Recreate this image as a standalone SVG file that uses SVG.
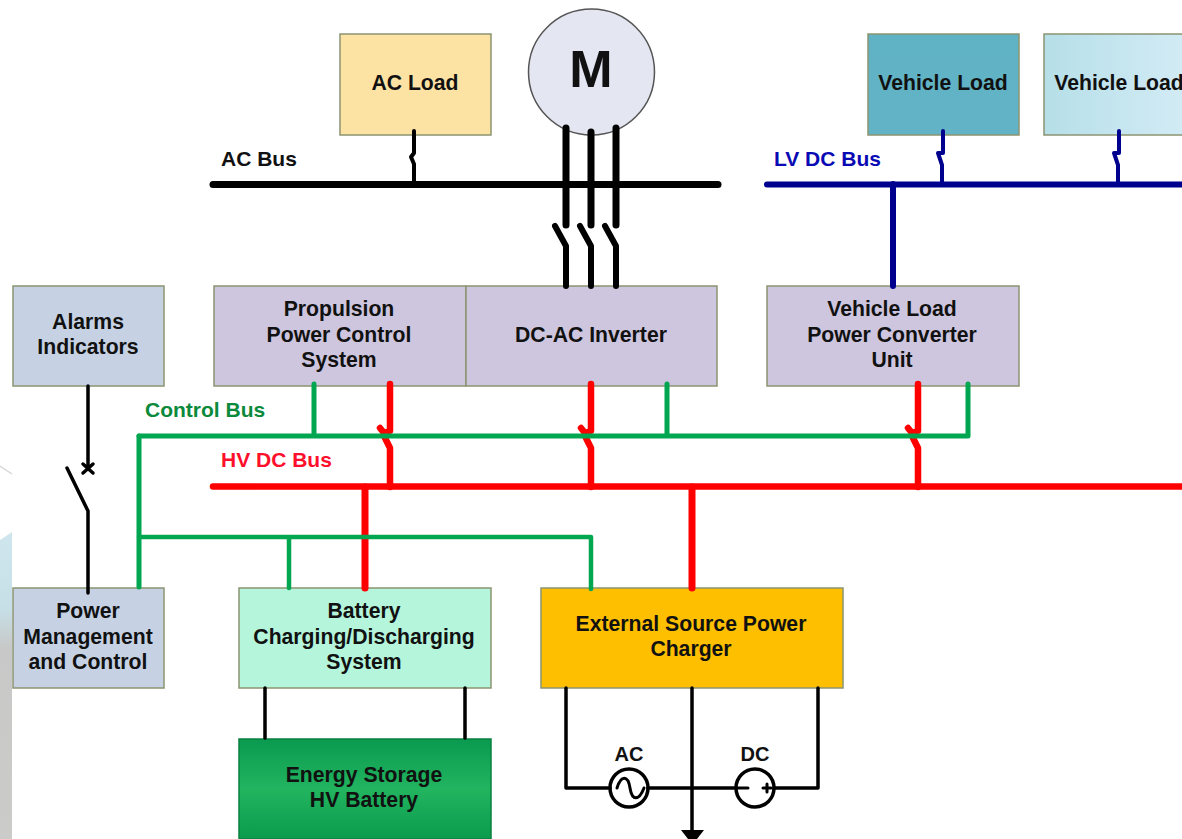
<svg xmlns="http://www.w3.org/2000/svg" width="1182" height="839" viewBox="0 0 1182 839">
<defs>
<linearGradient id="gEs" x1="0" y1="0" x2="0" y2="1"><stop offset="0" stop-color="#0a9a50"/><stop offset="0.5" stop-color="#22b45f"/><stop offset="1" stop-color="#0a9c4c"/></linearGradient>
<linearGradient id="gVl2" x1="0" y1="0" x2="1" y2="0"><stop offset="0" stop-color="#b6dfe8"/><stop offset="1" stop-color="#d4ecf6"/></linearGradient>
<linearGradient id="gVl1" x1="0" y1="0" x2="0" y2="1"><stop offset="0" stop-color="#5fb2c4"/><stop offset="1" stop-color="#62b3c6"/></linearGradient>
<linearGradient id="gBack" gradientUnits="userSpaceOnUse" x1="0" y1="532" x2="0" y2="839"><stop offset="0" stop-color="#cfe6ee"/><stop offset="0.25" stop-color="#c6dfe6"/><stop offset="0.38" stop-color="#c8c8c8"/><stop offset="1" stop-color="#cbcbc9"/></linearGradient>
</defs>
<style>
text{font-family:"Liberation Sans",Arial,sans-serif;font-weight:bold;font-size:21.200px;text-anchor:middle;fill:#111}
.box{stroke:#8c9470;stroke-width:1.500}
.pur{fill:#cdc6de}.blu{fill:#c6d2e4}
.w{fill:none;stroke-linecap:round;stroke-linejoin:round}
.k{stroke:#000}.r{stroke:#fe0000}.g{stroke:#00a650}.b{stroke:#00008f}
.lab{text-anchor:start;font-size:21px}
.sm{font-size:20px}
</style>
<rect width="1182" height="839" fill="#ffffff"/>
<g id="backdrop">
<path d="M0 540L12 532V839H0Z" fill="url(#gBack)"/>
<path d="M0 466L12 474" stroke="#d8d8d8" stroke-width="1.500" fill="none"/>
</g>
<g id="ac-load"><rect class="box" x="340" y="34" width="151" height="101" fill="#fce3a4"/><text x="415" y="90">AC Load</text></g>
<g id="motor"><circle cx="591.500" cy="72" r="63" fill="#e4e6f2" stroke="#555" stroke-width="1.500"/><text x="591" y="87" style="font-size:52px">M</text></g>
<g id="vehicle-load-1"><rect class="box" x="868" y="34" width="151" height="101" fill="url(#gVl1)"/><text x="943" y="90">Vehicle Load</text></g>
<g id="vehicle-load-2"><rect class="box" x="1044" y="34" width="150" height="101" fill="url(#gVl2)"/><text x="1119" y="90">Vehicle Load</text></g>
<g id="alarms"><rect class="box blu" x="13" y="286" width="151" height="100"/><text x="88" y="329">Alarms</text><text x="88" y="354">Indicators</text></g>
<g id="propulsion"><rect class="box pur" x="214" y="286" width="252" height="100"/><text x="339" y="316">Propulsion</text><text x="339" y="342">Power Control</text><text x="339" y="367">System</text></g>
<g id="inverter"><rect class="box pur" x="466" y="286" width="251" height="100"/><text x="591" y="342">DC-AC Inverter</text></g>
<g id="converter"><rect class="box pur" x="767" y="286" width="252" height="100"/><text x="892" y="316">Vehicle Load</text><text x="892" y="342">Power Converter</text><text x="892" y="367">Unit</text></g>
<g id="power-mgmt"><rect class="box blu" x="13" y="588" width="151" height="100"/><text x="88" y="618">Power</text><text x="88" y="644">Management</text><text x="88" y="669">and Control</text></g>
<g id="battery-sys"><rect class="box" x="239" y="588" width="252" height="100" fill="#b4f5dc"/><text x="364" y="618">Battery</text><text x="364" y="644">Charging/Discharging</text><text x="364" y="669">System</text></g>
<g id="charger"><rect class="box" x="541" y="588" width="302" height="100" fill="#fdbf00"/><text x="691" y="631">External Source Power</text><text x="691" y="656">Charger</text></g>
<g id="battery"><rect x="239" y="739" width="252" height="100" fill="url(#gEs)" stroke="#0a8040" stroke-width="1.500"/><text x="364" y="782">Energy Storage</text><text x="364" y="807">HV Battery</text></g>
<g id="connectors">
<g class="w k">
<path d="M213 184.500H718" stroke-width="7"/>
<path d="M414 131V153L411 157L414 164V184" stroke-width="4"/>
<path d="M566 128V225M591 132V225M616 128V225" stroke-width="7"/>
<path d="M555 226L566 246V286M580 226L591 246V286M605 226L616 246V286" stroke-width="6"/>
<path d="M88 386V468M83 464L93 473M93 464L83 473" stroke-width="3.500"/>
<path d="M67 468L88 511V593" stroke-width="3.500"/>
<path d="M265 688V738M465 688V738" stroke-width="3.500"/>
<path d="M566 688V788H610M648 788H736M774 788H818V688M692 688V830" stroke-width="3.500"/>
<circle cx="629" cy="788" r="19" stroke-width="3.500"/>
<circle cx="755" cy="788" r="19" stroke-width="3.500"/>
<path d="M617 788C621 775 628 775 630 788C632 801 639 801 644 788" stroke-width="3"/>
<path d="M736 788H748M763 788H771M767 784V792" stroke-width="3"/>
</g>
<path d="M681 830H704L697 839H688Z" fill="#000"/>
<g class="w b">
<path d="M767 184.500H1182" stroke-width="6"/>
<path d="M893 184V286" stroke-width="6"/>
<path d="M943 131V153L938 153L942 165V184M1119 131V153L1114 153L1118 165V184" stroke-width="4"/>
</g>
<g class="w r">
<path d="M213 486.500H1182" stroke-width="6.500"/>
<path d="M365 487V588M692 487V588" stroke-width="7"/>
<path d="M390 384V431L384 433L380 428M385 438L390 448V487M591 384V431L585 433L581 428M586 438L591 448V487M918 384V431L912 433L908 428M913 438L918 448V487" stroke-width="6.500"/>
</g>
<g class="w g">
<path d="M139 436H968V384M314 384V436M667 384V436" stroke-width="5"/>
<path d="M139 436V587" stroke-width="5"/>
<path d="M139 537H591V589M289 537V588" stroke-width="4.500"/>
</g>
</g>
<g id="labels">
<text class="lab" x="221" y="166">AC Bus</text>
<text class="lab" x="774" y="166" style="fill:#0a0ab4">LV DC Bus</text>
<text class="lab" x="145" y="417" style="fill:#0b8a3c">Control Bus</text>
<text class="lab" x="221" y="467" style="fill:#fe0f2c">HV DC Bus</text>
<text class="sm" x="629" y="761">AC</text>
<text class="sm" x="755" y="761">DC</text>
</g>
</svg>
